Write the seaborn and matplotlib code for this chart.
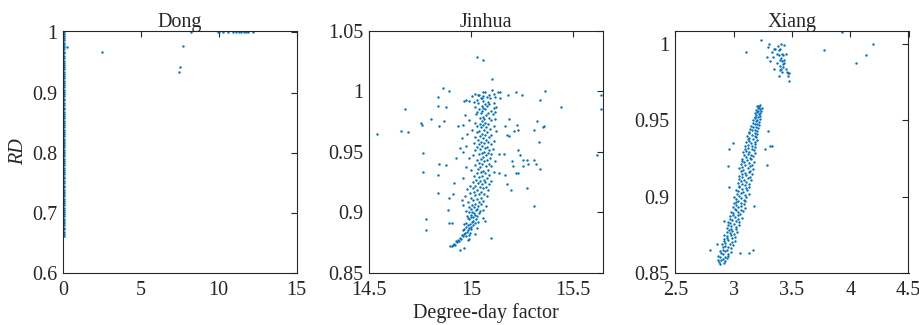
import pandas as pd
import matplotlib
matplotlib.use("Agg")
import matplotlib.pyplot as plt
import seaborn as sns
from matplotlib.ticker import FuncFormatter

# Panel titles, axis limits and ticks
sites = ["Dong", "Jinhua", "Xiang"]
x_limits = [(0, 15), (14.5, 15.645), (2.5, 4.5)]
y_limits = [(0.6, 1.003), (0.85, 1.05), (0.85, 1.009)]
x_ticks = [[0, 5, 10, 15], [14.5, 15, 15.5], [2.5, 3, 3.5, 4, 4.5]]
y_ticks = [[0.6, 0.7, 0.8, 0.9, 1.0], [0.85, 0.9, 0.95, 1.0, 1.05], [0.85, 0.9, 0.95, 1.0]]

# Dong: dense column of points at DDF ~ 0, a few scattered ones near RD = 1
dong_pts = [
    (0.03, 0.661), (0.04, 0.664), (0.02, 0.668), (0.05, 0.672), (0.03, 0.675), (0.04, 0.679),
    (0.02, 0.683), (0.03, 0.686), (0.05, 0.69), (0.03, 0.694), (0.04, 0.697), (0.02, 0.701),
    (0.03, 0.705), (0.04, 0.708), (0.03, 0.712), (0.05, 0.716), (0.02, 0.72), (0.03, 0.723),
    (0.04, 0.727), (0.03, 0.731), (0.02, 0.734), (0.04, 0.738), (0.03, 0.742), (0.05, 0.745),
    (0.03, 0.749), (0.02, 0.753), (0.04, 0.757), (0.03, 0.76), (0.04, 0.764), (0.02, 0.768),
    (0.03, 0.771), (0.05, 0.775), (0.03, 0.779), (0.04, 0.783), (0.02, 0.786), (0.03, 0.79),
    (0.04, 0.794), (0.03, 0.797), (0.02, 0.801), (0.04, 0.805), (0.03, 0.809), (0.05, 0.812),
    (0.03, 0.816), (0.02, 0.82), (0.04, 0.823), (0.03, 0.827), (0.04, 0.831), (0.02, 0.835),
    (0.03, 0.838), (0.05, 0.842), (0.03, 0.846), (0.04, 0.849), (0.02, 0.853), (0.03, 0.857),
    (0.04, 0.861), (0.03, 0.864), (0.02, 0.868), (0.04, 0.872), (0.03, 0.875), (0.05, 0.879),
    (0.03, 0.883), (0.02, 0.887), (0.04, 0.89), (0.03, 0.894), (0.04, 0.898), (0.02, 0.901),
    (0.03, 0.905), (0.05, 0.909), (0.03, 0.913), (0.04, 0.916), (0.02, 0.92), (0.03, 0.924),
    (0.04, 0.927), (0.03, 0.931), (0.02, 0.935), (0.04, 0.939), (0.03, 0.942), (0.05, 0.946),
    (0.03, 0.95), (0.02, 0.953), (0.04, 0.957), (0.03, 0.961), (0.04, 0.965), (0.02, 0.968),
    (0.03, 0.972), (0.05, 0.976), (0.03, 0.979), (0.04, 0.983), (0.02, 0.987), (0.03, 0.99),
    (0.04, 0.994), (0.03, 0.998), (0.05, 1.0),
    (0.24, 0.975), (2.47, 0.968), (7.43, 0.935), (7.52, 0.943), (7.72, 0.978), (8.19, 1.0),
    (9.92, 1.0), (10.02, 1.001), (10.28, 1.0), (10.6, 1.0), (10.9, 1.0), (11.1, 1.0),
    (11.3, 1.0), (11.45, 1.0), (11.6, 1.0), (11.75, 1.0), (11.85, 1.0), (12.21, 1.0),
]

# Jinhua: broad cloud around DDF 15 with outliers on both sides
jinhua_pts = [
    (14.538, 0.965), (14.654, 0.967), (14.677, 0.985), (14.691, 0.966), (14.752, 0.974), (14.757, 0.972),
    (14.763, 0.933), (14.765, 0.949), (14.778, 0.894), (14.777, 0.885), (14.802, 0.977), (14.837, 0.995),
    (14.838, 0.988), (14.835, 0.931), (14.838, 0.916), (14.841, 0.94), (14.843, 0.971), (14.861, 1.003),
    (14.866, 0.975), (14.876, 0.987), (14.877, 0.939), (14.889, 1.0), (14.886, 0.902), (14.89, 0.912),
    (14.892, 0.891), (14.907, 0.891), (14.913, 0.915), (14.936, 0.971), (14.928, 0.945), (14.918, 0.924),
    (15.028, 1.028), (15.06, 1.026), (15.103, 1.01), (15.103, 1.001), (15.059, 0.999), (15.142, 0.999),
    (15.142, 0.994), (15.181, 0.997), (15.221, 0.999), (15.25, 0.997), (15.363, 1.0), (15.441, 0.987),
    (15.34, 0.993), (15.324, 0.975), (15.311, 0.968), (15.358, 0.971), (15.355, 0.97), (15.188, 0.977),
    (15.165, 0.971), (15.175, 0.964), (15.186, 0.963), (15.225, 0.972), (15.232, 0.968), (15.211, 0.967),
    (15.23, 0.951), (15.24, 0.947), (15.255, 0.943), (15.276, 0.943), (15.277, 0.94), (15.311, 0.943),
    (15.317, 0.94), (15.333, 0.958), (15.34, 0.936), (15.136, 0.948), (15.163, 0.948), (15.2, 0.942),
    (15.207, 0.938), (15.253, 0.938), (15.222, 0.932), (15.23, 0.932), (15.168, 0.931), (15.176, 0.923),
    (15.196, 0.918), (15.276, 0.92), (15.137, 0.932), (15.31, 0.905), (15.1, 0.879), (15.616, 0.947),
    (15.637, 0.997), (15.637, 0.985),
    (14.945, 0.869), (14.965, 0.870), (14.895, 0.872), (14.905, 0.872), (14.91, 0.873), (14.92, 0.873),
    (14.915, 0.874), (14.93, 0.875), (14.925, 0.876), (14.94, 0.876), (14.935, 0.877), (14.985, 0.877),
    (14.95, 0.878), (14.99, 0.878), (14.945, 0.879), (14.96, 0.880), (14.975, 0.880), (14.955, 0.881),
    (14.99, 0.881), (15.02, 0.882), (14.965, 0.882), (14.97, 0.883), (14.995, 0.883), (14.98, 0.884),
    (14.96, 0.885), (14.985, 0.885), (15.0, 0.886), (14.965, 0.886), (14.99, 0.887), (15.03, 0.887),
    (14.975, 0.888), (15.0, 0.888), (15.01, 0.889), (14.985, 0.889), (14.965, 0.890), (14.995, 0.890),
    (15.02, 0.891), (14.975, 0.891), (15.005, 0.892), (15.035, 0.892), (15.01, 0.893), (15.07, 0.893),
    (14.99, 0.894), (15.025, 0.894), (15.06, 0.895), (14.985, 0.895), (15.0, 0.896), (15.01, 0.896),
    (15.03, 0.897), (14.98, 0.897), (15.02, 0.898), (15.0, 0.898), (15.04, 0.899), (15.015, 0.899),
    (14.99, 0.900), (15.005, 0.900), (15.045, 0.901), (14.975, 0.901), (15.025, 0.902), (15.06, 0.902),
    (15.0, 0.903), (15.03, 0.903), (14.99, 0.904), (15.015, 0.904), (15.075, 0.905), (15.035, 0.905),
    (14.96, 0.906), (15.005, 0.906), (15.05, 0.907), (15.02, 0.907), (14.985, 0.908), (15.04, 0.908),
    (15.06, 0.909), (15.01, 0.910), (14.955, 0.910), (15.03, 0.911), (15.0, 0.912), (15.05, 0.912),
    (15.08, 0.913), (14.97, 0.913), (15.02, 0.914), (15.04, 0.915), (15.065, 0.915), (14.995, 0.916),
    (15.015, 0.917), (15.05, 0.917), (15.085, 0.918), (15.03, 0.918), (14.98, 0.919), (15.06, 0.920),
    (15.01, 0.920), (15.045, 0.921), (15.075, 0.921), (15.02, 0.922), (14.995, 0.922), (15.055, 0.923),
    (15.09, 0.923), (15.035, 0.924), (15.07, 0.925), (15.01, 0.925), (15.045, 0.926), (15.1, 0.926),
    (15.025, 0.927), (15.065, 0.927), (14.96, 0.928), (15.08, 0.928), (15.04, 0.929), (15.055, 0.930),
    (15.015, 0.930), (15.09, 0.931), (15.07, 0.932), (15.03, 0.932), (15.05, 0.933), (15.11, 0.933),
    (15.06, 0.934), (15.0, 0.935), (15.085, 0.935), (15.035, 0.936), (15.045, 0.937), (14.975, 0.937),
    (15.075, 0.938), (15.1, 0.938), (15.02, 0.939), (15.055, 0.940), (15.09, 0.940), (15.04, 0.941),
    (15.065, 0.942), (15.115, 0.942), (15.03, 0.943), (15.08, 0.943), (15.05, 0.944), (14.99, 0.945),
    (15.095, 0.945), (15.06, 0.946), (15.075, 0.947), (15.01, 0.947), (15.04, 0.948), (15.1, 0.948),
    (15.085, 0.949), (15.055, 0.949), (14.96, 0.950), (15.065, 0.950), (15.02, 0.951), (15.09, 0.951),
    (15.045, 0.952), (15.105, 0.952), (14.945, 0.953), (15.07, 0.953), (15.03, 0.954), (15.08, 0.954),
    (14.975, 0.955), (15.055, 0.955), (15.1, 0.956), (15.04, 0.956), (15.065, 0.957), (15.015, 0.957),
    (15.085, 0.958), (15.05, 0.958), (15.11, 0.959), (15.035, 0.960), (15.075, 0.960), (15.06, 0.961),
    (14.955, 0.961), (15.09, 0.962), (15.02, 0.962), (15.045, 0.963), (15.07, 0.964), (15.1, 0.964),
    (14.98, 0.965), (15.055, 0.965), (15.03, 0.966), (15.08, 0.966), (15.12, 0.967), (15.04, 0.967),
    (15.065, 0.968), (15.005, 0.968), (15.095, 0.969), (15.05, 0.970), (15.075, 0.970), (15.03, 0.971),
    (15.11, 0.971), (15.06, 0.972), (14.96, 0.972), (15.085, 0.973), (15.045, 0.973), (15.02, 0.974),
    (15.07, 0.974), (15.055, 0.975), (15.1, 0.976), (14.99, 0.976), (15.065, 0.977), (15.115, 0.977),
    (15.045, 0.978), (15.09, 0.978), (15.06, 0.979), (14.97, 0.980), (15.075, 0.980), (15.025, 0.981),
    (15.105, 0.981), (15.05, 0.982), (15.085, 0.982), (15.03, 0.983), (15.115, 0.983), (15.1, 0.984),
    (15.055, 0.984), (15.07, 0.985), (15.04, 0.985), (15.11, 0.986), (15.06, 0.986), (15.02, 0.987),
    (15.12, 0.987), (15.08, 0.988), (15.055, 0.988), (15.09, 0.989), (15.07, 0.989), (15.11, 0.990),
    (15.035, 0.990), (15.085, 0.991), (15.015, 0.991), (15.06, 0.992), (14.965, 0.992), (14.975, 0.993),
    (15.03, 0.993), (15.095, 0.994), (15.05, 0.994), (15.08, 0.995), (15.115, 0.995), (15.005, 0.996),
    (15.06, 0.996), (15.09, 0.997), (15.04, 0.997), (15.11, 0.998), (15.02, 0.998), (15.13, 0.999),
    (15.07, 0.999), (15.035, 0.997), (15.055, 0.994), (14.99, 0.992),
]

# Xiang: rising band plus a small cluster near RD = 1
xiang_pts = [
    (2.798, 0.865), (2.856, 0.869), (2.922, 0.884), (2.948, 0.920), (2.957, 0.906), (2.962, 0.931),
    (2.994, 0.935), (3.054, 0.863), (3.131, 0.863), (3.166, 0.865), (3.177, 0.894), (3.286, 0.921),
    (3.292, 0.943), (3.315, 0.933), (3.332, 0.933), (3.269, 0.931),
    (3.103, 0.995), (3.237, 1.003), (3.301, 1.0), (3.295, 0.998), (3.284, 0.992), (3.312, 0.989),
    (3.332, 0.995), (3.344, 0.997), (3.358, 0.997), (3.373, 0.994), (3.384, 0.999), (3.404, 1.0),
    (3.436, 0.9998), (3.401, 0.997), (3.413, 0.994), (3.387, 0.993), (3.424, 0.993), (3.396, 0.990),
    (3.413, 0.989), (3.43, 0.990), (3.401, 0.986), (3.421, 0.985), (3.436, 0.988), (3.398, 0.983),
    (3.45, 0.984), (3.41, 0.984), (3.459, 0.982), (3.47, 0.981), (3.479, 0.981), (3.387, 0.979),
    (3.473, 0.976), (3.338, 0.992), (3.37, 0.988), (3.447, 0.994), (3.35, 0.984), (3.416, 0.982),
    (3.405, 0.991), (3.392, 0.996), (3.427, 0.987), (3.465, 0.979),
    (3.775, 0.996), (4.05, 0.988), (4.139, 0.993), (4.199, 1.0), (3.93, 1.008),
    (2.885, 0.8560), (2.915, 0.8565), (2.875, 0.8570), (2.93, 0.8578), (2.895, 0.8580), (2.87, 0.8585),
    (2.91, 0.8590), (2.945, 0.8597), (2.885, 0.8600), (2.925, 0.8606), (2.87, 0.8610), (2.95, 0.8612),
    (2.91, 0.8620), (2.95, 0.8625), (2.89, 0.8630), (2.98, 0.8634), (2.925, 0.8640), (2.885, 0.8645),
    (2.945, 0.8650), (2.905, 0.8652), (2.98, 0.8660), (2.905, 0.8668), (2.95, 0.8670), (2.93, 0.8674),
    (2.995, 0.8680), (2.9, 0.8686), (2.965, 0.8690), (2.93, 0.8693), (2.985, 0.8700), (2.92, 0.8705),
    (3.015, 0.8710), (2.955, 0.8714), (2.92, 0.8720), (2.985, 0.8726), (2.945, 0.8730), (3.01, 0.8735),
    (2.94, 0.8740), (2.975, 0.8746), (2.92, 0.8750), (3.005, 0.8752), (2.965, 0.8760), (3.03, 0.8765),
    (2.945, 0.8770), (2.99, 0.8773), (2.96, 0.8780), (3.02, 0.8787), (2.98, 0.8790), (2.94, 0.8794),
    (3.02, 0.8800), (2.975, 0.8806), (3.05, 0.8810), (2.955, 0.8815), (3.0, 0.8820), (2.965, 0.8824),
    (3.045, 0.8830), (2.95, 0.8835), (3.02, 0.8840), (2.99, 0.8848), (3.035, 0.8850), (2.97, 0.8853),
    (3.07, 0.8860), (3.015, 0.8867), (2.97, 0.8870), (3.04, 0.8876), (2.995, 0.8880), (3.055, 0.8884),
    (2.995, 0.8890), (3.04, 0.8896), (2.975, 0.8900), (3.08, 0.8905), (3.02, 0.8910), (3.06, 0.8913),
    (3.01, 0.8920), (3.1, 0.8927), (3.04, 0.8930), (2.995, 0.8934), (3.06, 0.8940), (3.02, 0.8946),
    (3.09, 0.8950), (3.0, 0.8955), (3.065, 0.8960), (3.02, 0.8965), (3.1, 0.8970), (3.04, 0.8973),
    (3.09, 0.8980), (3.02, 0.8986), (3.065, 0.8990), (3.0, 0.8995), (3.11, 0.9000), (3.045, 0.9006),
    (3.095, 0.9010), (3.025, 0.9014), (3.13, 0.9020), (3.06, 0.9026), (3.085, 0.9030), (3.035, 0.9035),
    (3.115, 0.9040), (3.02, 0.9045), (3.075, 0.9050), (3.105, 0.9057), (3.05, 0.9060), (3.13, 0.9064),
    (3.045, 0.9070), (3.095, 0.9076), (3.07, 0.9080), (3.13, 0.9085), (3.035, 0.9090), (3.105, 0.9095),
    (3.06, 0.9100), (3.15, 0.9106), (3.09, 0.9110), (3.045, 0.9114), (3.12, 0.9120), (3.075, 0.9126),
    (3.145, 0.9130), (3.045, 0.9135), (3.11, 0.9140), (3.07, 0.9146), (3.155, 0.9150), (3.095, 0.9155),
    (3.13, 0.9160), (3.06, 0.9165), (3.145, 0.9170), (3.085, 0.9174), (3.17, 0.9180), (3.045, 0.9186),
    (3.125, 0.9190), (3.075, 0.9195), (3.145, 0.9200), (3.1, 0.9206), (3.16, 0.9210), (3.06, 0.9214),
    (3.135, 0.9220), (3.09, 0.9226), (3.175, 0.9230), (3.075, 0.9234), (3.115, 0.9240), (3.15, 0.9245),
    (3.07, 0.9250), (3.14, 0.9256), (3.105, 0.9260), (3.17, 0.9264), (3.09, 0.9270), (3.15, 0.9275),
    (3.12, 0.9280), (3.185, 0.9285), (3.08, 0.9290), (3.135, 0.9294), (3.11, 0.9300), (3.175, 0.9306),
    (3.095, 0.9310), (3.155, 0.9315), (3.125, 0.9320), (3.185, 0.9325), (3.095, 0.9330), (3.16, 0.9335),
    (3.12, 0.9340), (3.185, 0.9344), (3.15, 0.9350), (3.11, 0.9356), (3.18, 0.9360), (3.135, 0.9365),
    (3.2, 0.9370), (3.12, 0.9376), (3.165, 0.9380), (3.135, 0.9384), (3.195, 0.9390), (3.115, 0.9396),
    (3.185, 0.9400), (3.155, 0.9405), (3.205, 0.9410), (3.135, 0.9415), (3.185, 0.9420), (3.13, 0.9425),
    (3.205, 0.9430), (3.16, 0.9436), (3.18, 0.9440), (3.145, 0.9445), (3.21, 0.9450), (3.165, 0.9456),
    (3.195, 0.9460), (3.15, 0.9464), (3.22, 0.9470), (3.18, 0.9476), (3.205, 0.9480), (3.165, 0.9485),
    (3.22, 0.9490), (3.19, 0.9494), (3.205, 0.9500), (3.17, 0.9505), (3.225, 0.9510), (3.185, 0.9516),
    (3.21, 0.9520), (3.18, 0.9525), (3.23, 0.9530), (3.195, 0.9534), (3.22, 0.9540), (3.185, 0.9546),
    (3.23, 0.9550), (3.2, 0.9555), (3.235, 0.9560), (3.21, 0.9564), (3.195, 0.9570), (3.225, 0.9576),
    (3.21, 0.9580), (3.24, 0.9585), (3.215, 0.9590), (3.205, 0.9595), (3.225, 0.9600), (3.21, 0.9598),
]

all_pts = [dong_pts, jinhua_pts, xiang_pts]
frames = []
for site, pts in zip(sites, all_pts):
    d = pd.DataFrame(pts, columns=["ddf", "rd"])
    d["site"] = site
    frames.append(d)
df = pd.concat(frames, ignore_index=True)

sns.set_style("white")
plt.rcParams["font.family"] = ["Liberation Serif", "DejaVu Serif"]

fig = plt.figure(figsize=(9.2, 3.25), dpi=100)
lefts = [0.0688, 0.4014, 0.734]
axes = [fig.add_axes([l, 0.161, 0.2535, 0.7446]) for l in lefts]

fmt = FuncFormatter(lambda v, p: f"{v:g}")
for i, ax in enumerate(axes):
    sub = df[df["site"] == sites[i]]
    sns.scatterplot(x="ddf", y="rd", data=sub, ax=ax, color="#0072BD", s=3,
                    marker="o", linewidth=0, legend=False)
    ax.set_xlim(x_limits[i])
    ax.set_ylim(y_limits[i])
    ax.set_xticks(x_ticks[i])
    ax.set_yticks(y_ticks[i])
    ax.xaxis.set_major_formatter(fmt)
    ax.yaxis.set_major_formatter(fmt)
    ax.tick_params(direction="in", top=True, right=True, length=4, width=0.8,
                   labelsize=14.5, colors="#262626")
    ax.tick_params(axis="x", pad=6)
    ax.tick_params(axis="y", pad=4)
    for sp in ax.spines.values():
        sp.set_color("#262626")
        sp.set_linewidth(0.8)
    ax.set_title(sites[i], fontsize=14.5, pad=3)
    ax.set_xlabel("")
    ax.set_ylabel("")

axes[0].set_ylabel("RD", fontsize=14.5, fontstyle="italic", labelpad=3)
axes[1].set_xlabel("Degree-day factor", fontsize=14.5, labelpad=2)

plt.savefig("out.png", dpi=100)
plt.close()
